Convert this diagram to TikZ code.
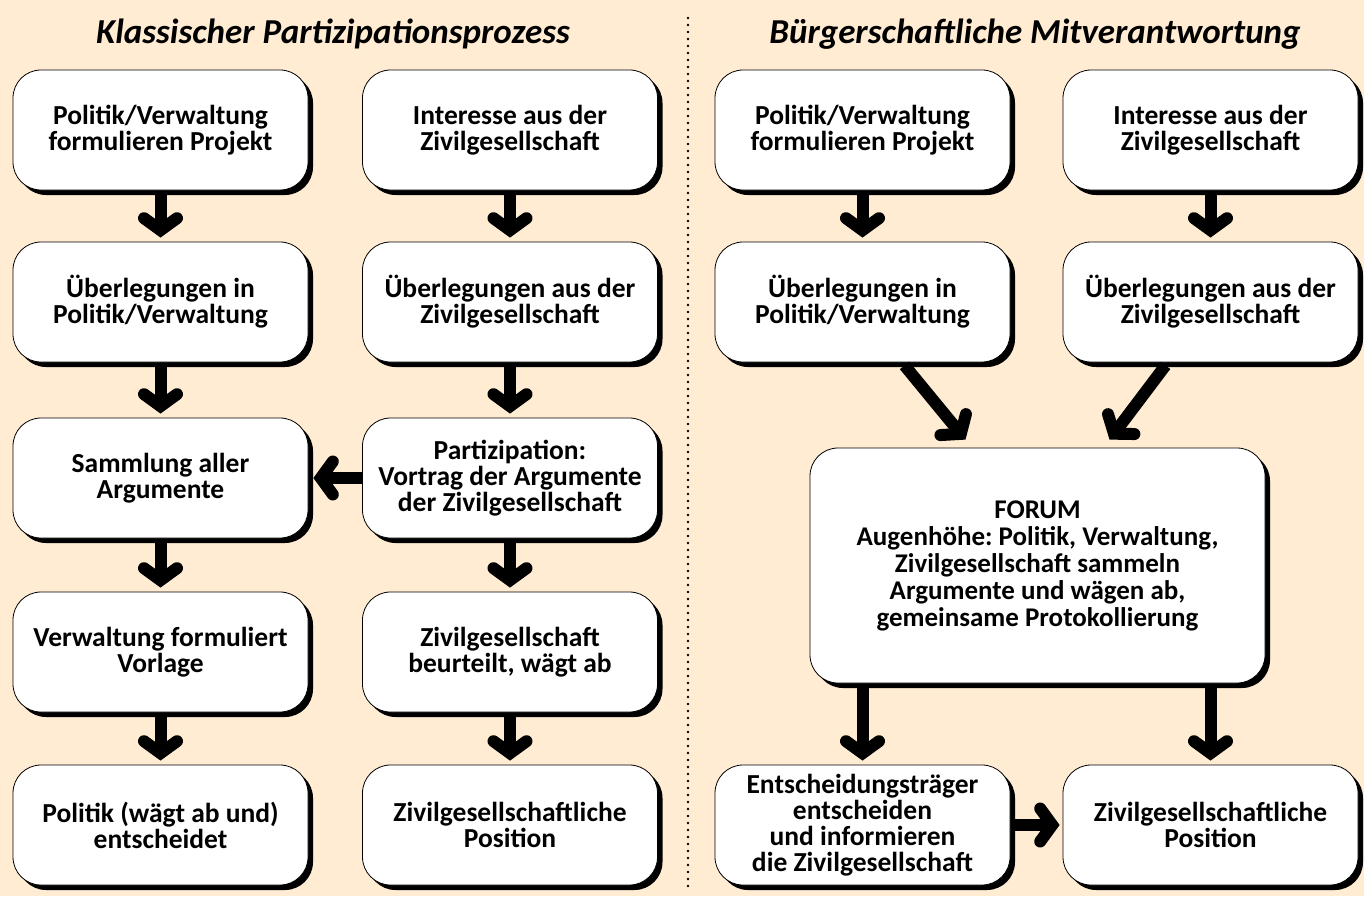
\documentclass[tikz,border=0pt]{standalone}
\usepackage{fontspec}
\setmainfont{Carlito}
\usetikzlibrary{arrows.meta,shadows}
\frenchspacing
\definecolor{bgpeach}{RGB}{255,236,211}
\tikzset{
  boxnode/.style={draw=black, line width=0.8pt, fill=white, rounded corners=28pt,
    minimum width=295pt, minimum height=120pt, align=center, inner sep=2pt,
    font=\fontsize{27.5}{26}\selectfont\bfseries,
    drop shadow={shadow xshift=5pt, shadow yshift=-5pt, opacity=1, fill=black}},
  titlenode/.style={anchor=base, font=\fontsize{35}{38}\selectfont\bfseries\itshape},
  arr/.style={line width=12pt, line cap=butt,
    -{Straight Barb[length=12pt,width=33pt,line cap=round,line join=miter]}},
  divider/.style={line width=2.6pt, line cap=round, dash pattern=on 0pt off 7pt}
}
\begin{document}
\begin{tikzpicture}[x=1pt,y=-1pt]
\useasboundingbox (0,0) rectangle (1364,896);
\fill[bgpeach] (0,0) rectangle (1364,896);
% titles
\node[titlenode] (t1) at (333,44) {Klassischer Partizipationsprozess};
\node[titlenode] (t2) at (1035,44) {Bürgerschaftliche Mitverantwortung};
% divider
\coordinate (d1) at (688,18);
\coordinate (d2) at (688,890);
\draw[divider] (d1) -- (d2);
% left column 1
\node[boxnode] (a1) at (160.5,130) {Politik/Verwaltung\\formulieren Projekt};
\node[boxnode] (a2) at (160.5,302) {Überlegungen in\\Politik/Verwaltung};
\node[boxnode] (a3) at (160.5,478) {Sammlung aller\\Argumente};
\node[boxnode] (a4) at (160.5,652) {Verwaltung formuliert\\Vorlage};
\node[boxnode] (a5) at (160.5,825) {Politik (wägt ab und)\\entscheidet};
% left column 2
\node[boxnode] (b1) at (510,130) {Interesse aus der\\Zivilgesellschaft};
\node[boxnode] (b2) at (510,302) {Überlegungen aus der\\Zivilgesellschaft};
\node[boxnode] (b3) at (510,478) {Partizipation:\\Vortrag der Argumente\\der Zivilgesellschaft};
\node[boxnode] (b4) at (510,652) {Zivilgesellschaft\\beurteilt, wägt ab};
\node[boxnode] (b5) at (510,825) {Zivilgesellschaftliche\\Position};
% right side
\node[boxnode] (c1) at (862.5,130) {Politik/Verwaltung\\formulieren Projekt};
\node[boxnode] (c2) at (862.5,302) {Überlegungen in\\Politik/Verwaltung};
\node[boxnode] (d1b) at (1210.5,130) {Interesse aus der\\Zivilgesellschaft};
\node[boxnode] (d2b) at (1210.5,302) {Überlegungen aus der\\Zivilgesellschaft};
\node[boxnode, minimum width=455pt, minimum height=235pt,
      font=\fontsize{27}{27}\selectfont\bfseries] (forum) at (1037.5,565.5)
  {FORUM\\Augenhöhe: Politik, Verwaltung,\\Zivilgesellschaft sammeln\\Argumente und wägen ab,\\gemeinsame Protokollierung};
\node[boxnode] (c5) at (862.5,825) {Entscheidungsträger\\entscheiden\\und informieren\\die Zivilgesellschaft};
\node[boxnode] (d5) at (1210.5,825) {Zivilgesellschaftliche\\Position};
% vertical arrows
\foreach \u/\v in {a1/a2,a2/a3,a3/a4,a4/a5,b1/b2,b2/b3,b3/b4,b4/b5,c1/c2,d1b/d2b}{
  \draw[arr, shorten <=5pt, shorten >=4pt] (\u.south) -- (\v.north);
}
\draw[arr, shorten >=5pt] (b3.west) -- (a3.east);
% diagonal arrows
\draw[arr] ([xshift=42pt,yshift=-3pt]c2.south) -- ([xshift=-72pt,yshift=8pt]forum.north);
\draw[arr] ([xshift=-45pt,yshift=-3pt]d2b.south) -- ([xshift=72pt,yshift=8pt]forum.north);
% forum down
\draw[arr, shorten <=2pt, shorten >=4pt] (forum.south -| c5.south) -- (c5.north);
\draw[arr, shorten <=2pt, shorten >=4pt] (forum.south -| d5.south) -- (d5.north);
\draw[arr, shorten <=5pt, shorten >=3pt] (c5.east) -- (d5.west);
\end{tikzpicture}
\end{document}
